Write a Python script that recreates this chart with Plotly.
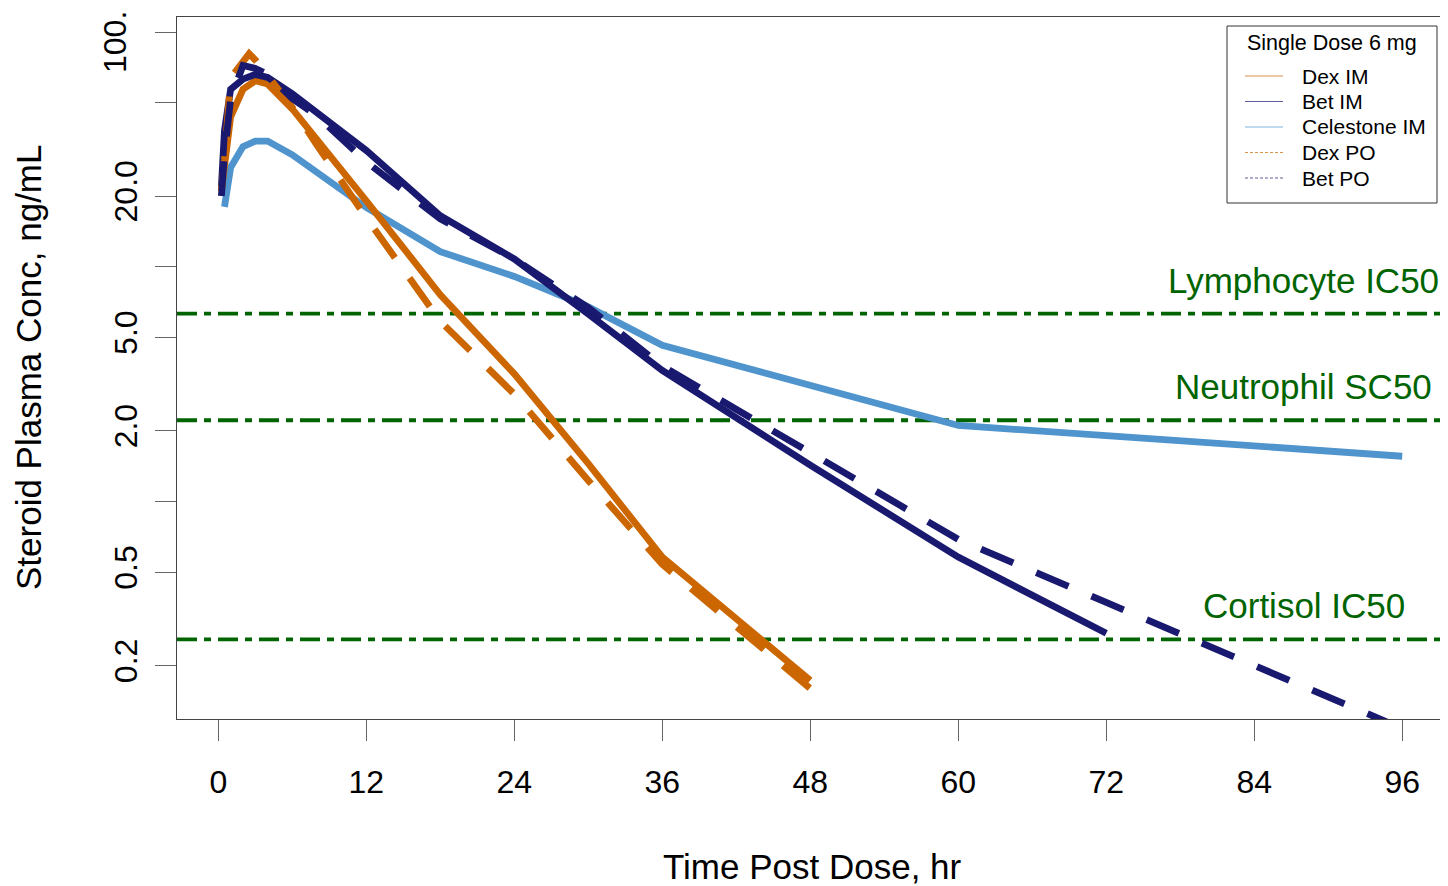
import math
import plotly.graph_objects as go

# ---------------- data ----------------
dex_im_t = [0.25, 0.5, 1, 2, 3, 4, 6, 12, 18, 24, 30, 36, 48]
dex_im_c = [21, 28, 43.5, 57, 62, 60, 47, 19.1, 7.6, 3.5, 1.45, 0.58, 0.173]

bet_im_t = [0.25, 0.5, 1, 2, 3, 4, 6, 12, 18, 24, 30, 36, 48, 60, 72]
bet_im_c = [22, 38, 57, 63, 66, 64, 54.6, 31.3, 16.5, 10.8, 6.3, 3.62, 1.43, 0.58, 0.275]

cel_im_t = [0.5, 1, 2, 3, 4, 6, 12, 18, 24, 30, 36, 48, 60, 72, 84, 96]
cel_im_c = [18, 26.5, 32.5, 34.3, 34.3, 30, 17.9, 11.6, 9.1, 6.75, 4.63, 3.13, 2.11, 1.91, 1.73, 1.56]

dex_po_t = [0.25, 0.5, 1, 2.5, 3, 4, 6, 8, 12, 18, 24, 30, 36, 48]
dex_po_c = [21, 28.5, 63.7, 80.8, 76, 65, 47.7, 33, 16.2, 5.86, 2.87, 1.23, 0.54, 0.16]

bet_po_t = [0.25, 0.5, 1, 2, 3, 4, 6, 8, 12, 18, 24, 30, 36, 48, 60, 72, 96]
bet_po_c = [20, 30, 52, 72, 70, 66, 52, 44, 28, 16, 10.8, 6.7, 3.78, 1.60, 0.69, 0.372, 0.108]

ref_names = ["Lymphocyte IC50", "Neutrophil SC50", "Cortisol IC50"]
ref_values = [6.32, 2.22, 0.259]
ref_label_x = 88

x_ticks = [0, 12, 24, 36, 48, 60, 72, 84, 96]
y_ticks = [100, 50, 20, 10, 5, 2, 1, 0.5, 0.2]
y_ticktext = ["", "", "20.0", "", "5.0", "2.0", "", "0.5", "0.2"]
y_top_label = "100."
y_top_value = 100

legend_title = "Single Dose 6 mg"
legend_names = ["Dex IM", "Bet IM", "Celestone IM", "Dex PO", "Bet PO"]

# ---------------- styles ----------------
ORANGE = "#CC6600"
NAVY = "#191970"
LBLUE = "#4F94CD"
GREEN = "#006400"
FONT = "Liberation Sans, Arial, sans-serif"

OFF = 8  # page body margin offset
W, H = 1448 - OFF, 886 - OFF
ML, MR, MT, MB = 177 - OFF, 1, 17 - OFF, 167
X_RANGE = [-3.349, 99.63]
Y_RANGE = [-0.926, 2.0639]

LW = 6.8
DASH = "35px,25px"

fig = go.Figure()

# reference lines
for v in ref_values:
    fig.add_trace(go.Scatter(x=X_RANGE, y=[v, v], mode="lines",
                             line=dict(color=GREEN, width=3.8, dash="20px,7px,7px,7px"),
                             showlegend=False, hoverinfo="skip"))

series = [
    (cel_im_t, cel_im_c, LBLUE, "solid"),
    (dex_im_t, dex_im_c, ORANGE, "solid"),
    (bet_im_t, bet_im_c, NAVY, "solid"),
    (dex_po_t, dex_po_c, ORANGE, DASH),
    (bet_po_t, bet_po_c, NAVY, DASH),
]
for t, c, col, d in series:
    fig.add_trace(go.Scatter(x=t, y=c, mode="lines",
                             line=dict(color=col, width=LW, dash=d),
                             showlegend=False))

# reference line labels
for name, v in zip(ref_names, ref_values):
    fig.add_annotation(x=ref_label_x, y=math.log10(v), xref="x", yref="y",
                       text=name, showarrow=False, yshift=33.5,
                       xanchor="center", yanchor="middle",
                       font=dict(family=FONT, size=35, color=GREEN))

PW = W - ML - MR
PH = H - MT - MB

# top y tick label (sits lower, as in the reference)
fig.add_annotation(x=0, y=math.log10(y_top_value), xref="paper", yref="y",
                   text=y_top_label, showarrow=False, textangle=-90,
                   xshift=(115 - OFF) - ML, yshift=-10,
                   xanchor="center", yanchor="middle",
                   font=dict(family=FONT, size=32, color="black"))

# axis titles
fig.add_annotation(x=0.5, y=0, xref="paper", yref="paper", text="Time Post Dose, hr",
                   showarrow=False, yshift=-(866 - OFF - (H - MB)), xanchor="center", yanchor="middle",
                   font=dict(family=FONT, size=35, color="black"))
fig.add_annotation(x=0, y=0.5, xref="paper", yref="paper", text="Steroid Plasma Conc, ng/mL",
                   showarrow=False, xshift=(28 - OFF) - ML, textangle=-90, xanchor="center", yanchor="middle",
                   font=dict(family=FONT, size=35, color="black"))

# manual legend (screen pixel layout -> paper)
def px(xs):
    return (xs - OFF - ML) / PW

def py(ys):
    return (H - MB - (ys - OFF)) / PH

fig.add_shape(type="rect", xref="paper", yref="paper",
              x0=px(1227), x1=px(1437), y0=py(203), y1=py(26),
              line=dict(color="#333333", width=1), fillcolor="white", layer="above")
fig.add_annotation(x=px(1245), y=py(43), xref="paper", yref="paper", text=legend_title,
                   showarrow=False, xanchor="left", yanchor="middle",
                   font=dict(family=FONT, size=21.5, color="black"))
leg_cols = [ORANGE, NAVY, LBLUE, ORANGE, NAVY]
leg_dash = ["solid", "solid", "solid", "3px,2px", "3px,2px"]
leg_y = [76, 101.5, 127, 152.5, 178]
for name, col, d, yy in zip(legend_names, leg_cols, leg_dash, leg_y):
    fig.add_shape(type="line", xref="paper", yref="paper",
                  x0=px(1245), x1=px(1283), y0=py(yy), y1=py(yy),
                  line=dict(color=col, width=1, dash=d), layer="above", opacity=0.7)
    fig.add_annotation(x=px(1300), y=py(yy), xref="paper", yref="paper", text=name,
                       showarrow=False, xanchor="left", yanchor="middle",
                       font=dict(family=FONT, size=21, color="black"))

fig.update_layout(
    width=W, height=H,
    margin=dict(l=ML, r=MR, t=MT, b=MB, pad=0, autoexpand=False),
    paper_bgcolor="white", plot_bgcolor="white",
    showlegend=False,
    font=dict(family=FONT, color="black"),
    xaxis=dict(range=X_RANGE, tickvals=x_ticks, ticks="outside", ticklen=21,
               tickcolor="#666666", tickwidth=1, showgrid=False, zeroline=False,
               showline=True, linecolor="#444444", linewidth=1, mirror=True,
               tickfont=dict(family=FONT, size=32, color="black"),
               ticklabelstandoff=14),
    yaxis=dict(type="log", range=Y_RANGE, tickvals=y_ticks, ticktext=y_ticktext,
               ticks="outside", ticklen=21, tickcolor="#666666", tickwidth=1,
               showgrid=False, zeroline=False, showline=True, linecolor="#444444",
               linewidth=1, mirror=True, tickangle=-90,
               tickfont=dict(family=FONT, size=32, color="black"),
               ticklabelstandoff=5),
)

fig.write_html("out.html")
